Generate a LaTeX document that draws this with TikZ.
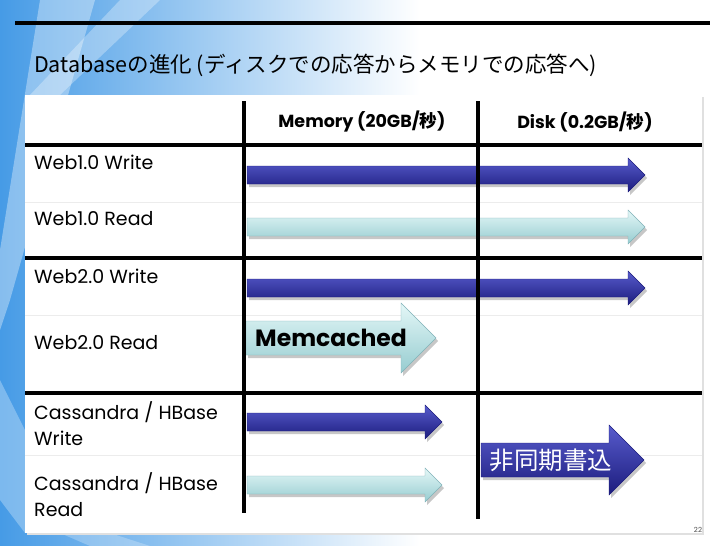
\documentclass[tikz,border=0pt]{standalone}
\usepackage{fontspec}
\usepackage{xcolor}
\setmainfont{Poppins}
\newfontfamily\jpfont{Noto Sans CJK JP}
\usetikzlibrary{positioning}
\definecolor{sdBlue}    {RGB}{ 70,155,230}
\definecolor{sdBlueL}   {RGB}{190,222,248}
\definecolor{sdNavyT}   {RGB}{ 88, 92,205}
\definecolor{sdNavyB}   {RGB}{ 28, 28,125}
\definecolor{sdAquaT}   {RGB}{228,247,247}
\definecolor{sdAquaB}   {RGB}{150,204,208}
\definecolor{sdAquaD}   {RGB}{128,178,184}
\definecolor{sdGrid}    {RGB}{236,236,236}

% block arrow: style, x start, x tip, y centre, shaft half, head half
\newcommand\blockarrow[6]{%
  \path[#1] (#2,#4-#5) -- (#3-#6,#4-#5) -- (#3-#6,#4-#6) -- (#3,#4)
    -- (#3-#6,#4+#6) -- (#3-#6,#4+#5) -- (#2,#4+#5) -- cycle;}

\begin{document}
\begin{tikzpicture}[
  x=1pt,y=-1pt,
  every node/.style={inner sep=0pt},
  rowlbl/.style={anchor=west,font=\fontsize{19}{26}\selectfont},
  colhead/.style={font=\fontsize{17.5}{20}\selectfont\bfseries},
  rule/.style={line width=4.5pt,black},
  faint/.style={line width=0.8pt,sdGrid},
  shadowed/.style={fill=black,opacity=.22},
  navy/.style={top color=sdNavyT,bottom color=sdNavyB,draw=sdNavyB,line width=0.4pt},
  aqua/.style={top color=sdAquaT,bottom color=sdAquaB,draw=sdAquaD,line width=0.4pt}
]
\useasboundingbox (0,0) rectangle (728,546);

% slide background
\fill[white] (0,0) rectangle (728,546);
\shade[left color=sdBlue,right color=white] (0,0) rectangle (420,546);
\fill[white,opacity=.35] (40,0) -- (95,0) -- (10,300) -- (0,330) -- (0,250) -- cycle;
\fill[white,opacity=.30] (120,0) -- (160,0) -- (60,95) -- (30,95) -- cycle;
\fill[sdBlueL,opacity=.45] (0,380) -- (25,430) -- (25,533) -- (0,500) -- cycle;
\fill[white,opacity=.25] (60,533) -- (110,533) -- (150,546) -- (90,546) -- cycle;
\draw[line width=4pt,black] (15,23) -- (710,23);

% title
\node[anchor=west,font=\jpfont\fontsize{21.5}{24}\selectfont] (title) at (34,65)
  {Databaseの進化 (ディスクでの応答からメモリでの応答へ)};

% table panel
\fill[black!12] (27,97) rectangle (704,535);
\fill[white] (25,95) rectangle (702,533);
\foreach \yy in {202,315,455}
  \draw[faint] (25,\yy) -- (702,\yy);

% column heads
\node[colhead] (memhead) at (362,122) {Memory (20GB/{\jpfont 秒})};
\node[colhead] (diskhead) at (585,122) {Disk (0.2GB/{\jpfont 秒})};

% row labels
\node[rowlbl] (w1w) at (34,162) {Web1.0 Write};
\node[rowlbl] (w1r) at (34,219) {Web1.0 Read};
\node[rowlbl] (w2w) at (34,276) {Web2.0 Write};
\node[rowlbl] (w2r) at (34,343) {Web2.0 Read};
\node[rowlbl,align=left] (chw) at (34,424) {Cassandra / HBase\\Write};
\node[rowlbl,align=left] (chr) at (34,495) {Cassandra / HBase\\Read};

% arrows
\blockarrow{shadowed}{249}{647}{178}{9}{17}
\blockarrow{navy}{247}{645}{175}{9}{17}
\blockarrow{shadowed}{249}{647}{230}{9}{17}
\blockarrow{aqua}{247}{645}{227}{9}{17}
\blockarrow{shadowed}{249}{647}{291}{9}{17}
\blockarrow{navy}{247}{645}{288}{9}{17}
\blockarrow{shadowed}{248}{438}{341}{17}{35}
\blockarrow{aqua}{246}{436}{338}{17}{35}
\blockarrow{shadowed}{249}{444}{425}{9}{17}
\blockarrow{navy}{247}{442}{422}{9}{17}
\blockarrow{shadowed}{249}{444}{488}{9}{17}
\blockarrow{aqua}{247}{442}{485}{9}{17}
\blockarrow{shadowed}{483}{646}{463}{17}{35}
\blockarrow{navy}{481}{644}{460}{17}{35}
\node[font=\fontsize{23.5}{26}\selectfont\bfseries] (memc) at (331,338) {Memcached};
\node[font=\jpfont\fontsize{24.5}{27}\selectfont,text=white] (async) at (551,460) {非同期書込};

% grid rules
\draw[rule] (244,101) -- (244,513);
\draw[rule] (478,101) -- (478,519);
\foreach \yy in {145,258,393}
  \draw[rule] (25,\yy) -- (702,\yy);

\node[font=\fontsize{7}{8}\selectfont,text=black!70] (pageno) at (698,530) {22};
\end{tikzpicture}
\end{document}
